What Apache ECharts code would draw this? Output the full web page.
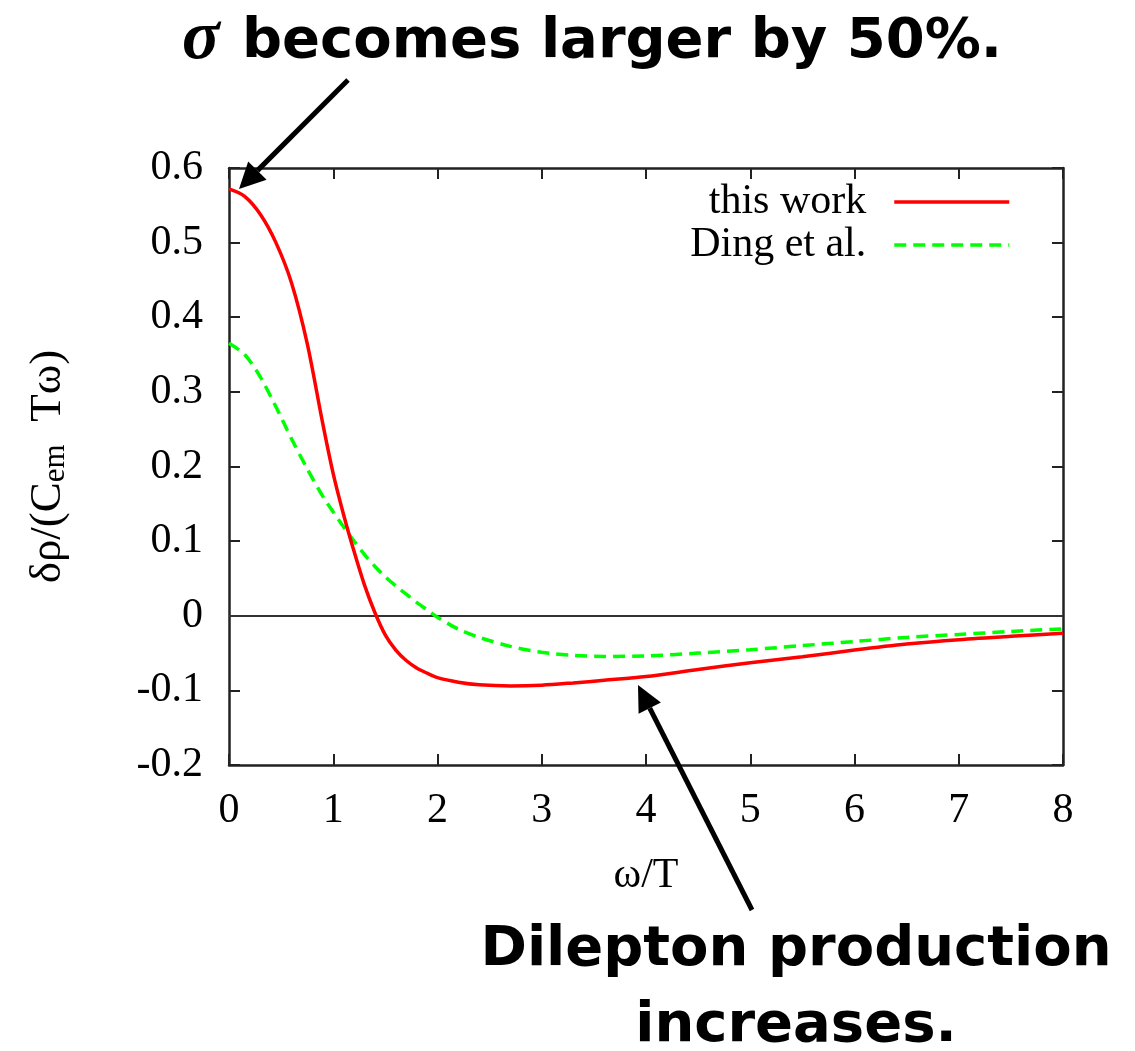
<!DOCTYPE html>
<html>
<head>
<meta charset="utf-8">
<script src="https://cdn.jsdelivr.net/npm/echarts@6/dist/echarts.min.js"></script>
<style>
html,body{margin:0;padding:0;background:#fff;}
#chart{width:1135px;height:1051px;}
</style>
</head>
<body>
<div id="chart"></div>
<script>
// ---- data ----
const omega = [0, 0.15, 0.3, 0.45, 0.6, 0.75, 0.9, 1.0, 1.1, 1.2, 1.3, 1.4, 1.5, 1.6, 1.7, 1.8, 1.9, 2.0, 2.2, 2.4, 2.7, 3.0, 3.3, 3.6, 4.0, 4.5, 5.0, 5.5, 6.0, 6.5, 7.0, 7.5, 8.0];
const thisWork = [0.572, 0.562, 0.538, 0.500, 0.446, 0.365, 0.257, 0.190, 0.135, 0.086, 0.041, 0.004, -0.026, -0.046, -0.060, -0.070, -0.077, -0.083, -0.089, -0.0925, -0.094, -0.093, -0.090, -0.0865, -0.0815, -0.072, -0.063, -0.055, -0.046, -0.038, -0.032, -0.0275, -0.0236];
const dingEtAl = [0.365, 0.350, 0.320, 0.280, 0.237, 0.197, 0.160, 0.139, 0.119, 0.100, 0.082, 0.066, 0.052, 0.040, 0.029, 0.018, 0.008, -0.002, -0.018, -0.029, -0.041, -0.049, -0.053, -0.0545, -0.054, -0.050, -0.0455, -0.040, -0.0345, -0.029, -0.025, -0.021, -0.0175];
const seriesNames = ['this work', 'Ding et al.'];
const xTicks = {min: 0, max: 8, interval: 1};
const yTicks = {min: -0.2, max: 0.6, interval: 0.1};
const xAxisName = 'ω/T';
const topNote = ['σ', 'becomes larger by 50%.'];
const bottomNote = ['Dilepton production', 'increases.'];

const SERIF = '"Liberation Serif", "Times New Roman", serif';
const SANS = '"DejaVu Sans", sans-serif';

function pairs(xs, ys) { return xs.map((x, i) => [x, ys[i]]); }
function fmtY(v) { return Math.abs(v) < 1e-9 ? '0' : v.toFixed(1); }

function arrow(tail, tip, len, half, width) {
  const dx = tip[0] - tail[0], dy = tip[1] - tail[1];
  const L = Math.hypot(dx, dy);
  const ux = dx / L, uy = dy / L;
  const bx = tip[0] - len * ux, by = tip[1] - len * uy;
  const px = -uy, py = ux;
  return [
    {type: 'line', shape: {x1: tail[0], y1: tail[1], x2: bx, y2: by}, style: {stroke: '#000', lineWidth: width}, z: 100},
    {type: 'polygon', shape: {points: [tip, [bx + half * px, by + half * py], [bx - half * px, by - half * py]]}, style: {fill: '#000'}, z: 100}
  ];
}

const axisLineStyle = {color: '#222', width: 2.5};
const tickStyle = {show: true, inside: true, length: 11, lineStyle: {color: '#222', width: 2}};

const chart = echarts.init(document.getElementById('chart'), null, {renderer: 'canvas'});
chart.setOption({
  backgroundColor: '#fff',
  animation: false,
  grid: {left: 229, top: 168, width: 834, height: 597},
  legend: {
    data: seriesNames,
    orient: 'vertical',
    align: 'right',
    right: 124,
    top: 181,
    padding: 0,
    itemGap: 1,
    itemWidth: 115,
    itemHeight: 44,
    itemStyle: {opacity: 0},
    lineStyle: {width: 3.5},
    textStyle: {fontFamily: SERIF, fontSize: 42, color: '#000', padding: [0, 23, 0, 0]}
  },
  xAxis: [
    {
      type: 'value', position: 'bottom', min: xTicks.min, max: xTicks.max, interval: xTicks.interval,
      name: xAxisName, nameLocation: 'middle', nameGap: 90,
      nameTextStyle: {fontFamily: SERIF, fontSize: 42, color: '#000'},
      axisLine: {show: true, onZero: false, lineStyle: axisLineStyle},
      axisTick: tickStyle,
      axisLabel: {fontFamily: SERIF, fontSize: 42, color: '#000', margin: 25},
      splitLine: {show: false}
    },
    {
      type: 'value', position: 'top', min: xTicks.min, max: xTicks.max, interval: xTicks.interval,
      axisLine: {show: true, onZero: false, lineStyle: axisLineStyle},
      axisTick: tickStyle,
      axisLabel: {show: false},
      splitLine: {show: false}
    }
  ],
  yAxis: [
    {
      type: 'value', position: 'left', min: yTicks.min, max: yTicks.max, interval: yTicks.interval,
      name: '{a|δρ/(C}{b|em}{a|  Tω)}', nameLocation: 'middle', nameGap: 158, nameRotate: 90,
      nameTextStyle: {
        color: '#000',
        rich: {
          a: {fontFamily: SERIF, fontSize: 45, color: '#000', verticalAlign: 'bottom'},
          b: {fontFamily: SERIF, fontSize: 31, color: '#000', verticalAlign: 'bottom'}
        }
      },
      axisLine: {show: true, onZero: false, lineStyle: axisLineStyle},
      axisTick: tickStyle,
      axisLabel: {fontFamily: SERIF, fontSize: 42, color: '#000', margin: 26, formatter: fmtY},
      splitLine: {show: false}
    },
    {
      type: 'value', position: 'right', min: yTicks.min, max: yTicks.max, interval: yTicks.interval,
      axisLine: {show: true, onZero: false, lineStyle: axisLineStyle},
      axisTick: tickStyle,
      axisLabel: {show: false},
      splitLine: {show: false}
    }
  ],
  series: [
    {
      name: seriesNames[0], type: 'line', xAxisIndex: 0, yAxisIndex: 0,
      data: pairs(omega, thisWork), smooth: 0.3, symbol: 'none', showSymbol: false,
      lineStyle: {color: '#ff0000', width: 3.5, type: 'solid'},
      itemStyle: {color: '#ff0000'}, z: 5,
      markLine: {
        silent: true, symbol: 'none', label: {show: false},
        lineStyle: {color: '#333', width: 1.8, type: 'solid'},
        data: [{yAxis: 0}], z: 1
      }
    },
    {
      name: seriesNames[1], type: 'line', xAxisIndex: 0, yAxisIndex: 0,
      data: pairs(omega, dingEtAl), smooth: 0.3, symbol: 'none', showSymbol: false,
      lineStyle: {color: '#00ff00', width: 3.5, type: [12, 7]},
      itemStyle: {color: '#00ff00'}, z: 4
    }
  ],
  graphic: [
    {type: 'text', z: 100, style: {text: topNote[0], x: 182, y: 40, font: 'italic bold 70px ' + SERIF, fill: '#000', verticalAlign: 'middle', align: 'left'}},
    {type: 'text', z: 100, style: {text: topNote[1], x: 242, y: 42, font: 'bold 56px ' + SANS, fill: '#000', verticalAlign: 'middle', align: 'left'}},
    {type: 'text', z: 100, style: {text: bottomNote[0], x: 796, y: 950, font: 'bold 56px ' + SANS, fill: '#000', verticalAlign: 'middle', align: 'center'}},
    {type: 'text', z: 100, style: {text: bottomNote[1], x: 796, y: 1026, font: 'bold 56px ' + SANS, fill: '#000', verticalAlign: 'middle', align: 'center'}}
  ].concat(arrow([348, 80], [239, 189], 26, 13, 5), arrow([752, 910], [638, 685], 26, 12.5, 5))
});
</script>
</body>
</html>
